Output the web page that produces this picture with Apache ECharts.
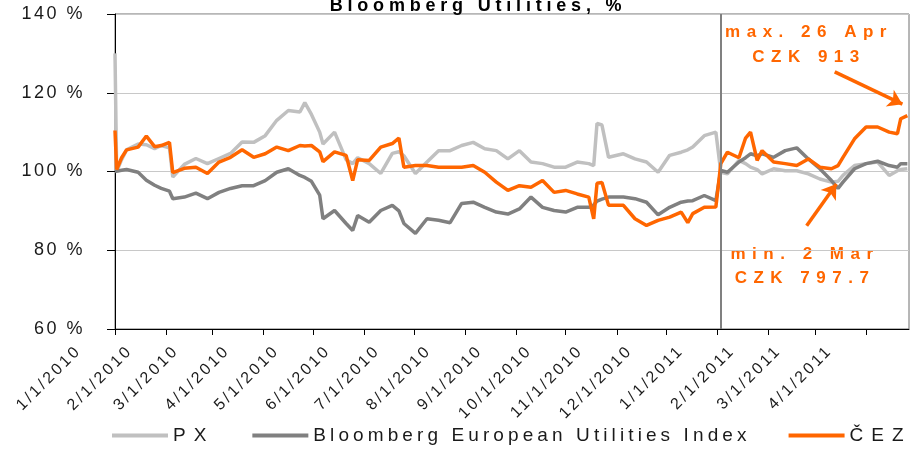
<!DOCTYPE html>
<html><head><meta charset="utf-8">
<script src="https://cdn.jsdelivr.net/npm/echarts@6/dist/echarts.min.js"></script>
<style>html,body{margin:0;padding:0;background:#fff}#c{width:911px;height:451px}</style>
</head><body><div id="c"></div>
<script>
// ---------------- data ----------------
const dates = ['2010-01-01','2010-01-02','2010-01-05','2010-01-08','2010-01-15','2010-01-20','2010-01-25','2010-01-29',
 '2010-02-03','2010-02-05','2010-02-12','2010-02-19','2010-02-26','2010-03-05','2010-03-12','2010-03-19','2010-03-26',
 '2010-04-02','2010-04-09','2010-04-16','2010-04-23','2010-04-26','2010-04-30','2010-05-05','2010-05-07','2010-05-14',
 '2010-05-21','2010-05-25','2010-05-28','2010-06-04','2010-06-11','2010-06-18','2010-06-22','2010-06-25','2010-07-02',
 '2010-07-09','2010-07-16','2010-07-23','2010-07-30','2010-08-06','2010-08-13','2010-08-20','2010-08-27','2010-09-03',
 '2010-09-10','2010-09-17','2010-09-24','2010-10-01','2010-10-08','2010-10-15','2010-10-18','2010-10-20','2010-10-23',
 '2010-10-27','2010-11-05','2010-11-12','2010-11-19','2010-11-26','2010-12-03','2010-12-10','2010-12-14','2010-12-17',
 '2010-12-24','2010-12-31','2011-01-03','2011-01-07','2011-01-14','2011-01-18','2011-01-21','2011-01-25','2011-01-28',
 '2011-02-04','2011-02-11','2011-02-18','2011-02-25','2011-03-04','2011-03-11','2011-03-15','2011-03-18','2011-03-25',
 '2011-04-01','2011-04-08','2011-04-15','2011-04-20','2011-04-22','2011-04-26'];
const pxValues = [130,100,103,105.5,107,106.8,105.8,106.6,
 106,98.6,101.8,103.3,102,103.3,104.6,107.5,107.4,
 109.1,113,115.5,115.1,117.5,114.5,110,107,110,
 103,102,103.5,102,99.5,104.6,105,104,99.5,
 102.4,105.3,105.3,106.6,107.4,105.8,105.3,103.2,105.3,
 102.4,102,101.1,101.1,102.4,102,101.5,112.2,111.8,
 103.6,104.5,103.2,102.4,99.8,104.1,104.9,105.5,106.2,
 109.1,110,99.8,99.4,102.8,102,101.1,100.5,99.4,
 100.7,100.2,100.2,99.4,98.1,97.3,97.5,99,101.5,
 102,102.4,99,100.2,100.5,100.7];
const bbgValues = [100,100,100.3,100.5,99.8,97.8,96.5,95.7,
 95,93.1,93.5,94.5,93.1,94.7,95.7,96.4,96.4,
 97.7,99.8,100.7,99,98.5,97.5,94,88,90.1,
 86.8,85,88.8,87.1,90.1,91.4,90,86.8,84.3,
 88,87.6,87,91.9,92.2,90.9,89.7,89.2,90.5,
 93.5,90.9,90.1,89.7,90.9,90.9,91.5,92.5,93,
 93.5,93.5,93.1,92.2,89,90.9,92.2,92.5,92.6,
 93.9,92.6,100.3,99.8,102.4,103.5,104.5,104,104.5,
 103.6,105.3,106,103.2,100.7,97.7,95.7,97.3,100.7,
 102,102.6,101.5,101.1,102,102];
const cezValues = [110.4,100.5,103.5,105.5,106.2,109,106.3,106.6,
 107.4,99.7,100.8,101.1,99.5,102.4,103.6,105.5,103.6,
 104.5,106.2,105.3,106.6,106.5,106.6,105,102.5,105,
 104.1,97.7,103,102.8,106.2,107.1,108.5,101.1,101.5,
 101.5,101.1,101.1,101.1,101.5,99.8,97.3,95.2,96.4,
 96,97.7,94.7,95.2,94.3,93.5,88,97,97.2,
 91.4,91.4,88,86.3,87.6,88.4,89.7,87,89.3,
 90.9,91,102,104.9,103.5,108.5,110,102.8,105.3,
 102.4,102,101.5,103.2,101.1,100.7,101.5,103.6,108.3,
 111.3,111.3,110,109.6,113.4,114.2];
const seriesNames = ['PX','Bloomberg European Utilities Index','ČEZ'];
const monthTicks = ['2010-01-01','2010-02-01','2010-03-01','2010-04-01','2010-05-01','2010-06-01','2010-07-01',
 '2010-08-01','2010-09-01','2010-10-01','2010-11-01','2010-12-01','2011-01-01','2011-02-01','2011-03-01','2011-04-01'];
const yTicks = {min:60, max:140, step:20};
const xRange = ['2010-01-01','2011-04-27'];
const rebaseDate = '2011-01-03';
const titleText = 'Bloomberg Utilities, %';
const maxNote = 'max. 26 Apr\nCZK 913';
const minNote = 'min. 2 Mar\nCZK 797.7';
const maxArrow = [['2011-03-13',125.3],['2011-04-23',117.1]];
const minArrow = [['2011-02-24',86.2],['2011-03-14',96.8]];

// ---------------- letter spacing support (text tracking like the original) ----------------
function spacingOf(font){ const m = /ls(\d+)/.exec(font || ''); return m ? (+m[1]) / 10 : 0; }
(function(){
  const proto = CanvasRenderingContext2D.prototype;
  if (!('letterSpacing' in proto)) return;
  const of = proto.fillText;
  proto.fillText = function(t, x, y, w){
    const s = spacingOf(this.font);
    if (!s) return w === undefined ? of.call(this, t, x, y) : of.call(this, t, x, y, w);
    const prev = this.letterSpacing; this.letterSpacing = s + 'px';
    if (w === undefined) of.call(this, t, x, y); else of.call(this, t, x, y, w);
    this.letterSpacing = prev;
  };
  const mctx = document.createElement('canvas').getContext('2d');
  if (echarts.setPlatformAPI) echarts.setPlatformAPI({
    measureText(text, font){
      mctx.font = font || '12px sans-serif';
      text = text == null ? '' : String(text);
      const w = mctx.measureText(text).width;
      const s = spacingOf(font);
      const add = (s && text !== '国') ? s * Array.from(text).length : 0;
      return { width: w + add };
    }
  });
})();

// ---------------- chart ----------------
function ts(s){ const p = s.split('-').map(Number); return new Date(p[0], p[1]-1, p[2]).getTime(); }
function pairs(vals){ return dates.map((d, i) => [ts(d), vals[i]]); }
const tickVals = monthTicks.map(ts);

const chart = echarts.init(document.getElementById('c'), null, {renderer: 'canvas'});
chart.setOption({
  animation: false,
  backgroundColor: '#fff',
  title: {
    text: titleText, left: 478, top: -2.5, textAlign: 'center', padding: 0,
    textStyle: {fontSize: 18, fontWeight: 'bold', fontFamily: 'Liberation Sans, ls48', color: '#000'}
  },
  grid: {left: 115, right: 2, top: 14, bottom: 122, show: true, borderColor: '#6e6e6e', borderWidth: 1,
         containLabel: false, outerBoundsMode: 'none'},
  legend: {
    left: 112, top: 426, width: 830, padding: 0, icon: 'rect', itemWidth: 56, itemHeight: 4, itemGap: 38,
    data: seriesNames,
    formatter: function(name){ return name.length > 5 ? '{w|' + name + '}' : '{n|' + name + '}'; },
    textStyle: {fontSize: 19, fontFamily: 'Liberation Sans, ls45', color: '#1a1a1a',
      rich: {
        w: {fontSize: 19, fontFamily: 'Liberation Sans, ls41', color: '#1a1a1a'},
        n: {fontSize: 19, fontFamily: 'Liberation Sans, ls80', color: '#1a1a1a'}
      }}
  },
  xAxis: {
    type: 'value', min: ts(xRange[0]), max: ts(xRange[1]), scale: true,
    axisLine: {show: true, onZero: false, lineStyle: {color: '#000', width: 1}},
    axisTick: {show: true, length: 6, lineStyle: {color: '#000'}, customValues: tickVals},
    axisLabel: {
      customValues: tickVals, rotate: 45, margin: -17, padding: [0, 51, 0, 0], hideOverlap: false,
      fontSize: 16, fontFamily: 'Liberation Sans, ls28', color: '#1a1a1a',
      formatter: function(v){ const d = new Date(v); return (d.getMonth()+1) + '/' + d.getDate() + '/' + d.getFullYear(); }
    },
    splitLine: {show: false}
  },
  yAxis: {
    type: 'value', min: yTicks.min, max: yTicks.max, interval: yTicks.step,
    axisLine: {show: true, lineStyle: {color: '#000', width: 1}},
    axisTick: {show: true, length: 8, lineStyle: {color: '#000'}},
    axisLabel: {formatter: '{value} %', margin: 30, fontSize: 18, fontFamily: 'Liberation Sans, ls25', color: '#1a1a1a'},
    splitLine: {show: true, lineStyle: {color: '#c8c8c8', width: 1}}
  },
  series: [
    {name: seriesNames[0], type: 'line', data: pairs(pxValues), showSymbol: false, symbol: 'none',
     lineStyle: {color: '#c0c0c0', width: 3.5}, itemStyle: {color: '#c0c0c0'}, z: 2,
     markLine: {silent: true, symbol: 'none', label: {show: false},
       lineStyle: {color: '#808080', width: 2, type: 'solid'}, data: [{xAxis: ts(rebaseDate)}]}},
    {name: seriesNames[1], type: 'line', data: pairs(bbgValues), showSymbol: false, symbol: 'none',
     lineStyle: {color: '#808080', width: 3.5}, itemStyle: {color: '#808080'}, z: 3},
    {name: seriesNames[2], type: 'line', data: pairs(cezValues), showSymbol: false, symbol: 'none',
     lineStyle: {color: '#ff6600', width: 3.5}, itemStyle: {color: '#ff6600'}, z: 4,
     markLine: {silent: true, symbol: ['none', 'arrow'], symbolSize: 14, label: {show: false},
       lineStyle: {color: '#ff6600', width: 3.5, type: 'solid'},
       data: [
         [{coord: [ts(maxArrow[0][0]), maxArrow[0][1]]}, {coord: [ts(maxArrow[1][0]), maxArrow[1][1]]}],
         [{coord: [ts(minArrow[0][0]), minArrow[0][1]]}, {coord: [ts(minArrow[1][0]), minArrow[1][1]]}]
       ]}}
  ],
  graphic: [
    {type: 'text', x: 809, y: 19.5, silent: true,
     style: {text: maxNote, textAlign: 'center', textVerticalAlign: 'top', lineHeight: 25,
             font: 'bold 17px Liberation Sans, ls65', fill: '#ff6600'}},
    {type: 'text', x: 805, y: 242, silent: true,
     style: {text: minNote, textAlign: 'center', textVerticalAlign: 'top', lineHeight: 24,
             font: 'bold 17px Liberation Sans, ls65', fill: '#ff6600'}}
  ]
});
</script>
</body></html>
